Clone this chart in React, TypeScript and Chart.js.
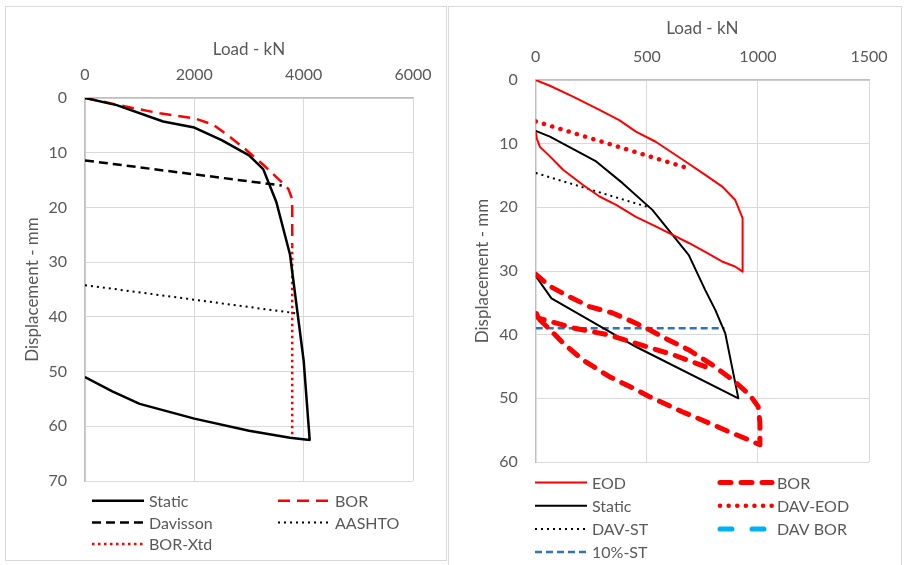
import React, { useEffect, useRef } from "react";
import { Chart, registerables } from "chart.js";

Chart.register(...registerables);

const FONT = "Lato, 'Open Sans', sans-serif";
const TEXT = "#595959";
const GRID = "#D9D9D9";
const AXIS = "#BFBFBF";

// ---------- Left chart data (Load kN, Displacement mm) ----------
const leftXTicks = [0, 2000, 4000, 6000];
const leftYTicks = [0, 10, 20, 30, 40, 50, 60, 70];

const leftStaticLoad = [0, 580, 1430, 2000, 2500, 3000, 3260, 3500, 3750, 4000, 4110, 3750, 3000, 2000, 1000, 500, 0];
const leftStaticDisp = [0, 1.3, 4.3, 5.4, 7.7, 10.5, 13, 19, 28.6, 48, 62.5, 62.1, 60.8, 58.6, 55.9, 53.6, 51];

const leftBorLoad = [0, 270, 760, 1370, 2000, 2350, 2650, 2950, 3260, 3560, 3720, 3790, 3790];
const leftBorDisp = [0, 0.55, 1.6, 2.8, 3.7, 4.9, 7.1, 9.5, 12.2, 15, 16.6, 18.5, 27];

const davissonLoad = [0, 3600];
const davissonDisp = [11.4, 16];

const aashtoLoad = [0, 3900];
const aashtoDisp = [34.2, 39.4];

const borXtdLoad = [3790, 3790];
const borXtdDisp = [27, 62.2];

// ---------- Right chart data ----------
const rightXTicks = [0, 500, 1000, 1500];
const rightYTicks = [0, 10, 20, 30, 40, 50, 60];

const eodLoad = [0, 64, 168, 287, 376, 451, 540, 674, 763, 838, 897, 931, 931, 897, 838, 763, 689, 614, 540, 451, 362, 287, 213, 123, 64, 19, 5, 0];
const eodDisp = [0, 0.9, 2.6, 4.7, 6.3, 8.1, 9.7, 12.8, 14.9, 16.7, 18.8, 21.7, 30.1, 29.3, 28.5, 27, 25.6, 24.3, 23, 21.5, 19.6, 18.3, 16.5, 14.1, 12, 10.5, 9.2, 8.1];

const borLoad = [0, 64, 138, 242, 346, 451, 510, 585, 689, 793, 897, 964, 1001, 1009, 1009, 957, 867, 748, 659, 510, 421, 332, 213, 123, 64, 19, 0, 12, 175, 324, 473, 622, 800];
const borDisp = [30.5, 32.4, 33.8, 35.6, 36.6, 38.2, 39.2, 40.6, 42.4, 44.7, 47.4, 49.5, 51.3, 53.9, 57.3, 56.5, 55.2, 53.4, 52.1, 49.7, 48.1, 46.6, 44, 41.3, 39.2, 37.7, 36.4, 37.4, 39, 40, 41.6, 43.2, 45.5];

const rightStaticLoad = [0, 64, 272, 391, 525, 689, 763, 808, 853, 912, 451, 71, 0];
const rightStaticDisp = [8, 8.9, 12.8, 16.2, 20.4, 27.5, 33, 36.1, 39.8, 50, 41.9, 34.3, 30.8];

const davEodLoad = [0, 690];
const davEodDisp = [6.5, 13.9];

const davStLoad = [0, 500];
const davStDisp = [14.6, 19.9];

const davBorLoad: number[] = [];
const davBorDisp: number[] = [];

const tenStLoad = [0, 850];
const tenStDisp = [39, 39];

function pts(xs: number[], ys: number[]) {
  return xs.map((x, i) => ({ x, y: ys[i] }));
}

const gridLegend = {
  id: "gridLegend",
  afterDraw(chart: any, _args: any, opts: any) {
    const ctx = chart.ctx;
    ctx.save();
    chart.data.datasets.forEach((d: any, i: number) => {
      const col = i % 2;
      const row = Math.floor(i / 2);
      const x0 = col === 0 ? opts.col0 : opts.col1;
      const y = opts.top + row * opts.rowH;
      ctx.beginPath();
      ctx.strokeStyle = d.borderColor;
      ctx.lineWidth = d.borderWidth;
      ctx.setLineDash(d.borderDash || []);
      ctx.lineCap = d.borderCapStyle || "butt";
      ctx.moveTo(x0, y);
      ctx.lineTo(x0 + opts.sample, y);
      ctx.stroke();
      ctx.setLineDash([]);
      ctx.fillStyle = TEXT;
      ctx.font = `16px ${FONT}`;
      ctx.textBaseline = "middle";
      ctx.textAlign = "left";
      ctx.fillText(d.label, x0 + opts.sample + opts.gap, y + 1);
    });
    ctx.restore();
  },
};

function series(label: string, xs: number[], ys: number[], style: any) {
  return {
    label,
    data: pts(xs, ys),
    showLine: true,
    pointRadius: 0,
    pointHoverRadius: 0,
    fill: false,
    tension: 0,
    borderCapStyle: "butt",
    borderJoinStyle: "round",
    ...style,
  };
}

function makeOptions(p: any) {
  const tickFont = { family: FONT, size: 16 };
  const titleFont = { family: FONT, size: 17 };
  return {
    responsive: false,
    animation: false,
    events: [],
    layout: { padding: p.padding },
    plugins: {
      legend: { display: false },
      tooltip: { enabled: false },
      gridLegend: p.legend,
    },
    scales: {
      x: {
        type: "linear",
        position: "top",
        min: p.xTicks[0],
        max: p.xTicks[p.xTicks.length - 1],
        afterBuildTicks: (s: any) => {
          s.ticks = p.xTicks.map((v: number) => ({ value: v }));
        },
        ticks: { color: TEXT, font: tickFont, padding: 13.4, callback: (v: any) => String(v), maxRotation: 0 },
        grid: { color: GRID, lineWidth: 1, drawTicks: false },
        border: { color: AXIS, width: 1.5 },
        title: { display: true, text: "Load - kN", color: TEXT, font: titleFont, padding: { top: 4, bottom: 4 } },
        afterFit: (s: any) => {
          s.height = p.xH;
        },
      },
      y: {
        type: "linear",
        reverse: true,
        min: p.yTicks[0],
        max: p.yTicks[p.yTicks.length - 1],
        afterBuildTicks: (s: any) => {
          s.ticks = p.yTicks.map((v: number) => ({ value: v }));
        },
        ticks: { color: TEXT, font: tickFont, padding: 18, callback: (v: any) => String(v) },
        grid: { color: GRID, lineWidth: 1, drawTicks: false },
        border: { color: AXIS, width: 1.5 },
        title: { display: true, text: "Displacement - mm", color: TEXT, font: titleFont, padding: { top: 4, bottom: 4 } },
        afterFit: (s: any) => {
          s.width = p.yW;
        },
      },
    },
  };
}

function ChartCanvas({ width, height, datasets, options }: any) {
  const ref = useRef<HTMLCanvasElement>(null);
  useEffect(() => {
    if (!ref.current) return;
    const chart = new Chart(ref.current, {
      type: "scatter",
      data: { datasets },
      options,
      plugins: [gridLegend],
    } as any);
    return () => chart.destroy();
  }, []);
  return <canvas ref={ref} width={width} height={height} style={{ display: "block", width, height }} />;
}

const leftDatasets = [
  series("Static", leftStaticLoad, leftStaticDisp, { borderColor: "#000000", borderWidth: 2.5 }),
  series("BOR", leftBorLoad, leftBorDisp, { borderColor: "#FF0000", borderWidth: 2.5, borderDash: [12, 7] }),
  series("Davisson", davissonLoad, davissonDisp, { borderColor: "#000000", borderWidth: 2.5, borderDash: [9, 5] }),
  series("AASHTO", aashtoLoad, aashtoDisp, { borderColor: "#000000", borderWidth: 2, borderDash: [2, 4] }),
  series("BOR-Xtd", borXtdLoad, borXtdDisp, { borderColor: "#FF0000", borderWidth: 2.5, borderDash: [2.5, 3.5] }),
];

const rightDatasets = [
  series("EOD", eodLoad, eodDisp, { borderColor: "#FF0000", borderWidth: 2 }),
  series("BOR", borLoad, borDisp, { borderColor: "#FF0000", borderWidth: 5, borderDash: [11, 10], borderCapStyle: "round" }),
  series("Static", rightStaticLoad, rightStaticDisp, { borderColor: "#000000", borderWidth: 2 }),
  series("DAV-EOD", davEodLoad, davEodDisp, { borderColor: "#FF0000", borderWidth: 4.5, borderDash: [0.1, 8.5], borderCapStyle: "round" }),
  series("DAV-ST", davStLoad, davStDisp, { borderColor: "#000000", borderWidth: 2, borderDash: [2, 4] }),
  series("DAV BOR", davBorLoad, davBorDisp, { borderColor: "#00B0F0", borderWidth: 5, borderDash: [12, 20], borderCapStyle: "round" }),
  series("10%-ST", tenStLoad, tenStDisp, { borderColor: "#2E75B6", borderWidth: 2.5, borderDash: [7, 4] }),
];

const leftOptions = makeOptions({
  xTicks: leftXTicks,
  yTicks: leftYTicks,
  padding: { left: 12.8, top: 28.8, right: 33, bottom: 79 },
  xH: 62.2,
  yW: 66.2,
  legend: { col0: 86, col1: 272, top: 493.7, rowH: 21.7, sample: 52, gap: 5 },
});

const rightOptions = makeOptions({
  xTicks: rightXTicks,
  yTicks: rightYTicks,
  padding: { left: 19.8, top: 7.8, right: 29.3, bottom: 104 },
  xH: 65.2,
  yW: 66.9,
  legend: { col0: 86, col1: 271, top: 475.5, rowH: 23.2, sample: 52, gap: 5 },
});

export default function App() {
  return (
    <div style={{ position: "fixed", inset: 0, overflow: "hidden", background: "#ffffff" }}>
      <div style={{ position: "absolute", left: 5, top: 6, width: 440, height: 553, border: `1px solid ${GRID}` }}>
        <ChartCanvas width={440} height={553} datasets={leftDatasets} options={leftOptions} />
      </div>
      <div style={{ position: "absolute", left: 448, top: 6, width: 452, height: 559, border: `1px solid ${GRID}` }}>
        <ChartCanvas width={452} height={559} datasets={rightDatasets} options={rightOptions} />
      </div>
    </div>
  );
}
